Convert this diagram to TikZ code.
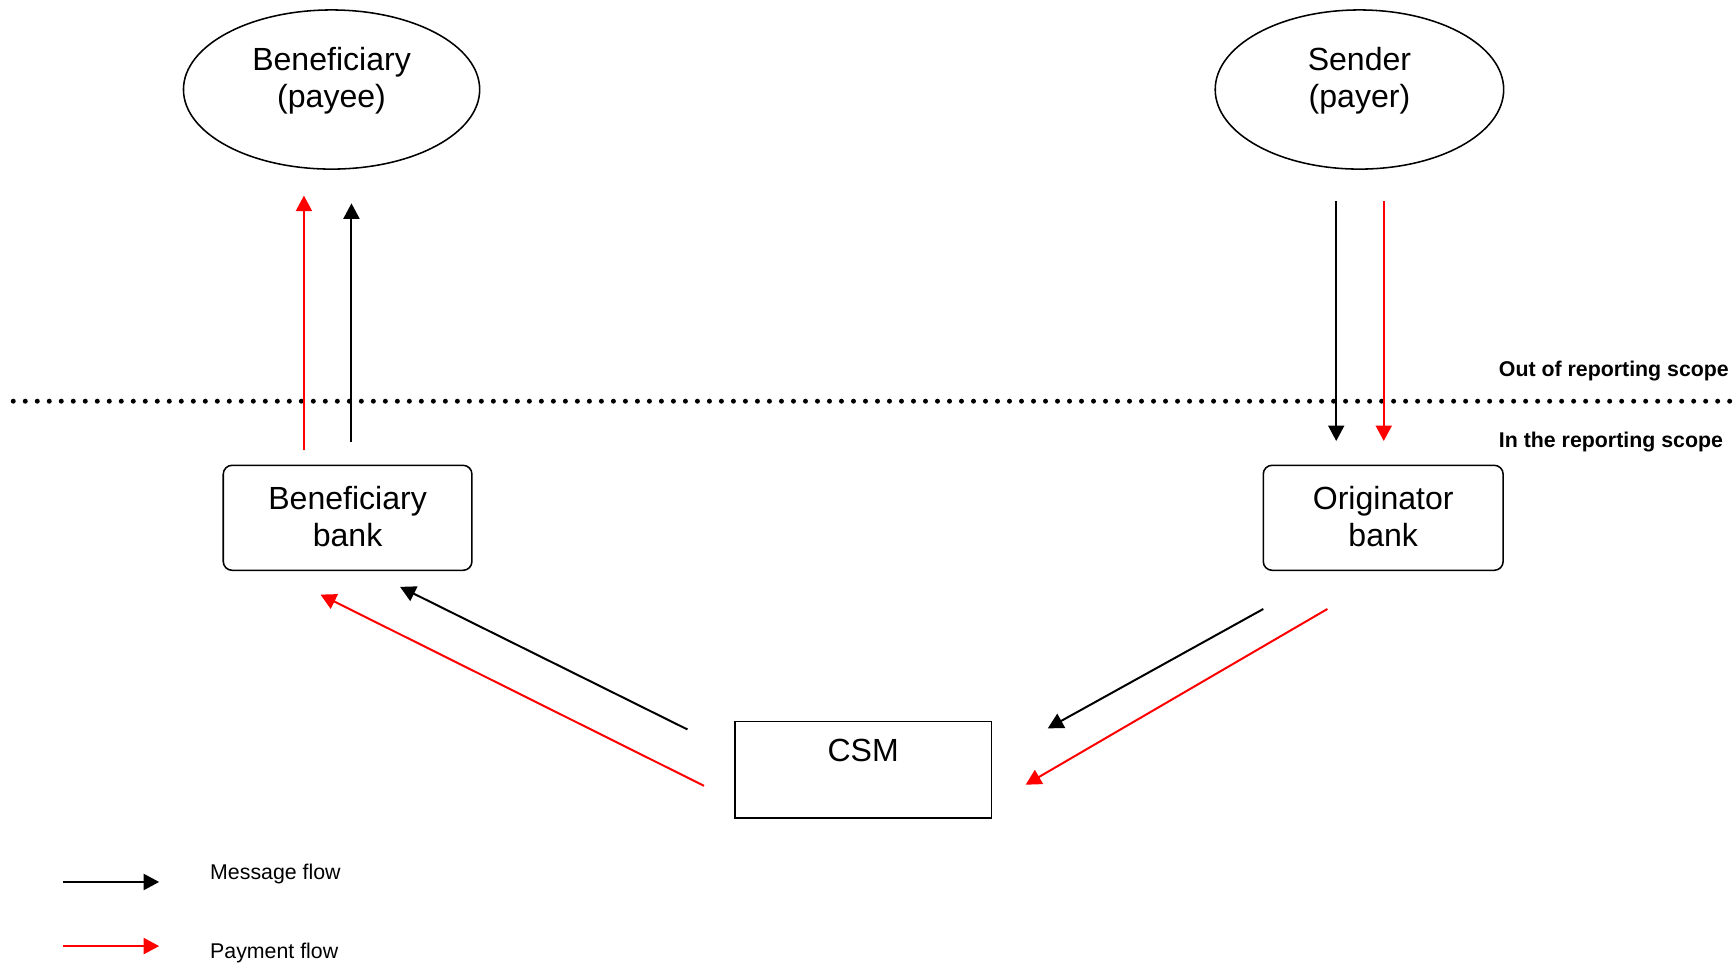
\documentclass[tikz,border=0pt]{standalone}
\usepackage{fontspec}
\setmainfont{Liberation Sans}
\usetikzlibrary{arrows.meta,shapes.geometric}
\begin{document}
\begin{tikzpicture}[x=1pt,y=-1pt,
  flow/.style={line width=1.8pt,-{Triangle[length=14pt,width=14.5pt]}},
  msg/.style={flow,draw=black},
  pay/.style={flow,draw=red,fill=red},
  party/.style={draw,ellipse,line width=1.4pt,inner sep=0pt,minimum height=144pt},
  bank/.style={draw,rounded corners=8pt,line width=1.4pt,inner sep=0pt,minimum height=95pt},
  csmbox/.style={draw,line width=1.4pt,inner sep=0pt,minimum width=232pt,minimum height=87pt},
  big/.style={font=\fontsize{29}{34}\selectfont,align=center,inner sep=0pt},
  scopelbl/.style={font=\fontsize{19.3}{23}\selectfont\bfseries,anchor=west,inner sep=0pt},
  legendlbl/.style={font=\fontsize{19.3}{23}\selectfont,anchor=west,inner sep=0pt},
  dotline/.style={line width=4.5pt,line cap=round,dash pattern=on 0pt off 10.86pt}]
\useasboundingbox (0,0) rectangle (1568,875);

% parties
\node[party,minimum width=268pt] (benE) at (300,81) {};
\node[big] (benT) at (300,73) {Beneficiary\\(payee)};
\node[party,minimum width=261pt] (sendE) at (1230,81) {};
\node[big] (sendT) at (1230,73) {Sender\\(payer)};

% banks
\node[bank,minimum width=225pt] (benB) at (314.5,468.5) {};
\node[big] (benBT) at (314.5,467.5) {Beneficiary\\bank};
\node[bank,minimum width=217pt] (origB) at (1251.5,468.5) {};
\node[big] (origBT) at (1251.5,467.5) {Originator\\bank};

% CSM
\node[csmbox] (csm) at (781,696.5) {};
\node[big] (csmT) at (781,679) {CSM};

% scope line
\coordinate (dl) at (12,363);
\coordinate (dr) at (1568,363);
\draw[dotline] (dl) -- (dr);
\node[scopelbl] (out) at (1356,335.5) {Out of reporting scope};
\node[scopelbl] (in) at (1356,399.5) {In the reporting scope};

% vertical flows
\coordinate (a1s) at (275,407); \coordinate (a1e) at (275,177);
\coordinate (a2s) at (318,400); \coordinate (a2e) at (318,184);
\coordinate (a3s) at (1209,182); \coordinate (a3e) at (1209,399);
\coordinate (a4s) at (1252,182); \coordinate (a4e) at (1252,399);
\draw[pay] (a1s) -- (a1e);
\draw[msg] (a2s) -- (a2e);
\draw[msg] (a3s) -- (a3e);
\draw[pay] (a4s) -- (a4e);

% diagonal flows
\coordinate (b1s) at (622,660); \coordinate (b1e) at (362,531);
\coordinate (b2s) at (637,711); \coordinate (b2e) at (290,538);
\coordinate (b3s) at (1143,551); \coordinate (b3e) at (948,659);
\coordinate (b4s) at (1201,551); \coordinate (b4e) at (928,710);
\draw[msg] (b1s) -- (b1e);
\draw[pay] (b2s) -- (b2e);
\draw[msg] (b3s) -- (b3e);
\draw[pay] (b4s) -- (b4e);

% legend
\coordinate (l1s) at (57,798); \coordinate (l1e) at (144,798);
\coordinate (l2s) at (57,856); \coordinate (l2e) at (144,856);
\draw[msg] (l1s) -- (l1e);
\draw[pay] (l2s) -- (l2e);
\node[legendlbl] (msgT) at (190,790.5) {Message flow};
\node[legendlbl] (payT) at (190,862.5) {Payment flow};
\end{tikzpicture}
\end{document}
